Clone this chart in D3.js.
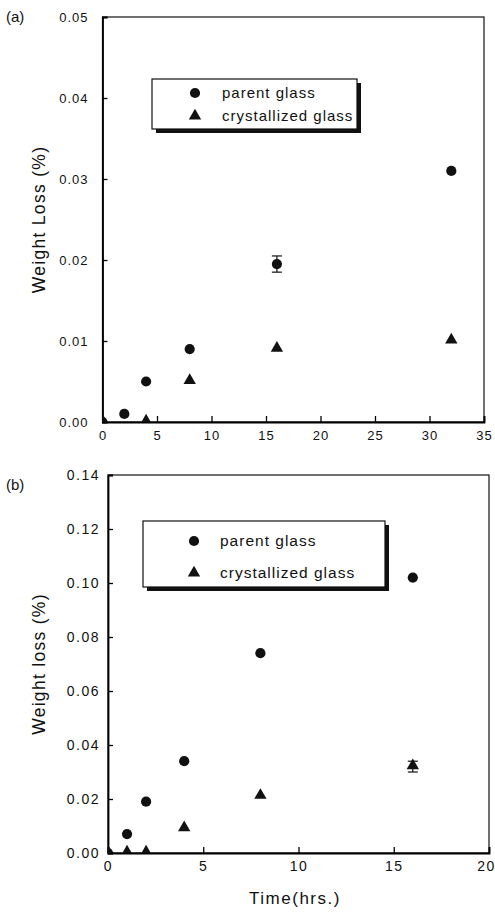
<!DOCTYPE html>
<html>
<head>
<meta charset="utf-8">
<script src="https://cdn.jsdelivr.net/npm/d3@7"></script>
<style>
  html, body { margin: 0; padding: 0; background: #fff; }
  svg text { font-family: "Liberation Sans", Arial, Helvetica, sans-serif; fill: #111; }
</style>
</head>
<body>
<svg id="fig" width="495" height="915"></svg>
<script>
// Panel (a): weight loss vs time, 0–32 h
const timeA = [0, 2, 4, 8, 16, 32];
const parentA = [0, 0.001, 0.005, 0.009, 0.0195, 0.031];
const parentErrA = [0, 0, 0, 0, 0.001, 0];
const crystTimeA = [0, 4, 8, 16, 32];
const crystA = [0, 0, 0.005, 0.009, 0.010];
const crystErrA = [0, 0, 0, 0, 0];
const xTicksA = [0, 5, 10, 15, 20, 25, 30, 35];
const yTicksA = [0, 0.01, 0.02, 0.03, 0.04, 0.05];

// Panel (b): weight loss vs time, 0–16 h
const timeB = [0, 1, 2, 4, 8, 16];
const parentB = [0, 0.007, 0.019, 0.034, 0.074, 0.102];
const parentErrB = [0, 0, 0, 0, 0, 0];
const crystB = [0, 0, 0, 0.009, 0.021, 0.032];
const crystErrB = [0, 0, 0, 0, 0, 0.002];
const xTicksB = [0, 5, 10, 15, 20];
const yTicksB = [0, 0.02, 0.04, 0.06, 0.08, 0.10, 0.12, 0.14];

const legendLabels = ["parent glass", "crystallized glass"];

const svg = d3.select("#fig");
const circleSym = d3.symbol().type(d3.symbolCircle).size(82);
const triSym = d3.symbol().type(d3.symbolTriangle).size(66);

function panel(cfg) {
  const x = d3.scaleLinear().domain(cfg.xDomain).range([cfg.left, cfg.right]);
  const y = d3.scaleLinear().domain(cfg.yDomain).range([cfg.bottom, cfg.top]);
  const g = svg.append("g");

  const clipId = "clip-" + cfg.id;
  g.append("clipPath").attr("id", clipId)
    .append("rect")
    .attr("x", cfg.left).attr("y", cfg.top - 10)
    .attr("width", cfg.right - cfg.left + 10).attr("height", cfg.bottom - cfg.top + 10);

  // frame
  g.append("rect")
    .attr("x", cfg.left).attr("y", cfg.top)
    .attr("width", cfg.right - cfg.left).attr("height", cfg.bottom - cfg.top)
    .attr("fill", "none").attr("stroke", "#111").attr("stroke-width", 1.2);

  // axes with inward ticks
  const xAxis = d3.axisBottom(x).tickValues(cfg.xTicks).tickSize(-6).tickPadding(10)
    .tickFormat(d3.format("d"));
  const gx = g.append("g").attr("transform", `translate(0,${cfg.bottom})`).call(xAxis);
  gx.select(".domain").attr("stroke-width", 1.8);
  gx.selectAll(".tick line").attr("stroke-width", 1.3);
  gx.selectAll(".tick text").attr("font-size", cfg.tickFont).attr("dy", "0.6em")
    .attr("letter-spacing", cfg.tickSpacing);
  gx.selectAll(".tick").filter(d => d === cfg.xDomain[1]).select("text").attr("dx", cfg.lastDx || 0);

  const yAxis = d3.axisLeft(y).tickValues(cfg.yTicks).tickSize(-5).tickPadding(cfg.yPad)
    .tickFormat(d3.format(".2f"));
  const gy = g.append("g").attr("transform", `translate(${cfg.left},0)`).call(yAxis);
  gy.select(".domain").attr("stroke-width", 1.8);
  gy.selectAll(".tick line").attr("stroke-width", 1.3);
  gy.selectAll(".tick text").attr("font-size", cfg.tickFont).attr("letter-spacing", cfg.tickSpacing);

  // y axis title
  g.append("text")
    .attr("transform", `translate(${cfg.yTitleX},${(cfg.top + cfg.bottom) / 2}) rotate(-90)`)
    .attr("text-anchor", "middle").attr("font-size", 17.5).attr("letter-spacing", 1.3)
    .text(cfg.yTitle);

  // panel label
  g.append("text").attr("x", cfg.labelX).attr("y", cfg.labelY)
    .attr("font-size", 15).text(cfg.label);

  // data
  const marks = g.append("g").attr("clip-path", `url(#${clipId})`);
  cfg.series.forEach(s => {
    const pts = s.t.map((t, i) => ({ t, v: s.v[i], e: s.e[i] }));
    const eb = marks.append("g").attr("stroke", "#111").attr("stroke-width", 1.2);
    pts.filter(p => p.e > 0).forEach(p => {
      const cx = x(p.t);
      eb.append("line").attr("x1", cx).attr("x2", cx).attr("y1", y(p.v - p.e)).attr("y2", y(p.v + p.e));
      [p.v - p.e, p.v + p.e].forEach(val => {
        eb.append("line").attr("x1", cx - 5).attr("x2", cx + 5).attr("y1", y(val)).attr("y2", y(val));
      });
    });
    marks.append("g").selectAll("path").data(pts).join("path")
      .attr("d", s.sym)
      .attr("transform", p => `translate(${x(p.t)},${y(p.v) + (s.sym === triSym ? -1 : 0)})`)
      .attr("fill", "#111");
  });

  // legend with drop shadow
  const L = cfg.legend;
  g.append("rect").attr("x", L.x + 4).attr("y", L.y + 4).attr("width", L.w).attr("height", L.h).attr("fill", "#111");
  g.append("rect").attr("x", L.x).attr("y", L.y).attr("width", L.w).attr("height", L.h)
    .attr("fill", "#fff").attr("stroke", "#111").attr("stroke-width", 1.2);
  legendLabels.forEach((lab, i) => {
    const yy = L.y + L.row0 + i * L.dy;
    g.append("path").attr("d", i === 0 ? circleSym : triSym)
      .attr("transform", `translate(${L.mx},${yy})`).attr("fill", "#111");
    g.append("text").attr("x", L.tx).attr("y", yy).attr("dy", "0.35em")
      .attr("font-size", L.font).attr("letter-spacing", L.ls).text(lab);
  });
}

panel({
  id: "a", label: "(a)", labelX: 6, labelY: 22,
  left: 102.5, right: 484, top: 17, bottom: 422,
  xDomain: [0, 35], yDomain: [0, 0.05],
  xTicks: xTicksA, yTicks: yTicksA, tickFont: 13, tickSpacing: 1, yPad: 14,
  yTitle: "Weight Loss (%)", yTitleX: 45,
  series: [
    { t: timeA, v: parentA, e: parentErrA, sym: circleSym },
    { t: crystTimeA, v: crystA, e: crystErrA, sym: triSym }
  ],
  legend: { x: 152, y: 79, w: 205, h: 50, row0: 14, dy: 23, mx: 195, tx: 222, font: 15, ls: 1 }
});

panel({
  id: "b", label: "(b)", labelX: 6, labelY: 490,
  left: 108, right: 489, top: 475, bottom: 853,
  xDomain: [0, 20], yDomain: [0, 0.14],
  xTicks: xTicksB, yTicks: yTicksB, tickFont: 14, tickSpacing: 1.5, yPad: 8, lastDx: -3,
  yTitle: "Weight loss (%)", yTitleX: 45,
  series: [
    { t: timeB, v: parentB, e: parentErrB, sym: circleSym },
    { t: timeB, v: crystB, e: crystErrB, sym: triSym }
  ],
  legend: { x: 143, y: 521, w: 242, h: 66, row0: 20, dy: 32, mx: 194, tx: 220, font: 15.5, ls: 1 }
});

// shared x axis title
svg.append("text").attr("x", 295).attr("y", 904).attr("text-anchor", "middle")
  .attr("font-size", 17).attr("letter-spacing", 1.5).text("Time(hrs.)");
</script>
</body>
</html>
